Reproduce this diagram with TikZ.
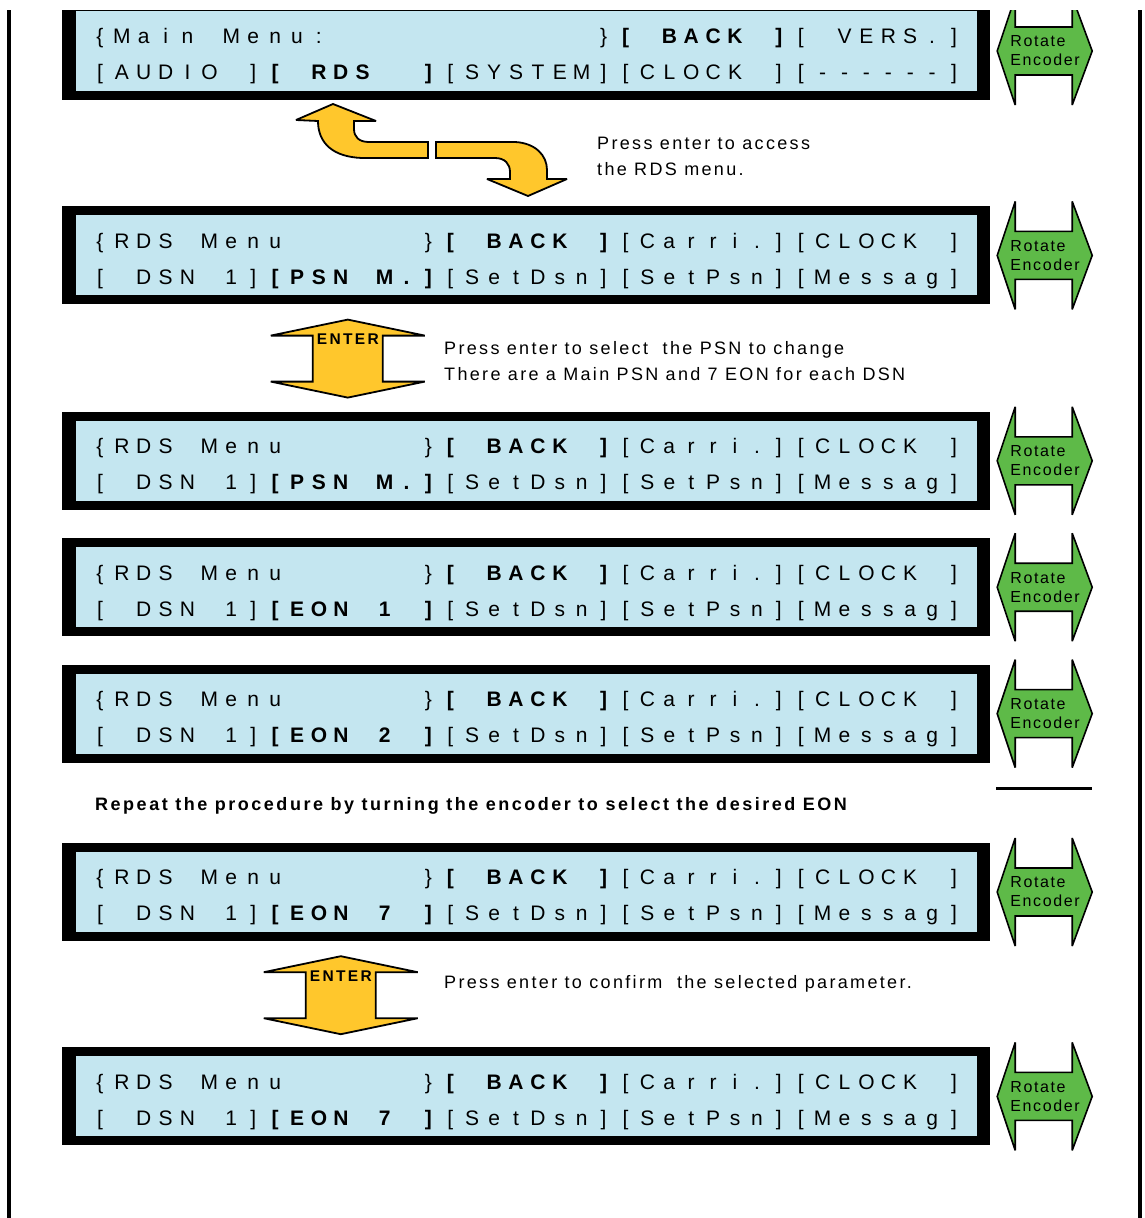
\documentclass[tikz,border=0pt]{standalone}
\usepackage{fontspec}
\setmainfont{Liberation Sans}
\newfontfamily\notefont[LetterSpace=13]{Liberation Sans}
\newfontfamily\repeatfont[LetterSpace=14]{Liberation Sans}
\newfontfamily\knobfont[LetterSpace=10]{Liberation Sans}
\newfontfamily\enterfont[LetterSpace=15]{Liberation Sans}
\usepackage{tikz}
\usetikzlibrary{calc, positioning}
\definecolor{LcdBlue}{RGB}{196,230,240}
\definecolor{KnobGreen}{RGB}{94,186,72}
\definecolor{EnterYellow}{RGB}{255,199,44}

\newif\iflcdbold
\newlength\lcdpitch
\setlength\lcdpitch{21.9pt}
\def\lcdblank{_}
\def\lcdstar{*}
\makeatletter
\newcommand\lcdstring[1]{\global\lcdboldfalse\@tfor\lcdtok:=#1\do{\lcdcell}}
\makeatother
\newcommand\lcdcell{%
  \ifx\lcdtok\lcdstar
    \iflcdbold\global\lcdboldfalse\else\global\lcdboldtrue\fi
  \else
    \makebox[\lcdpitch]{\iflcdbold\bfseries\fi\ifx\lcdtok\lcdblank\else\lcdtok\fi}%
  \fi}

\begin{document}
\begin{tikzpicture}[
  x=1pt, y=-1pt,
  lcdbox/.style={fill=black, inner sep=0pt, minimum width=928pt, minimum height=98pt,
    path picture={\fill[LcdBlue] ([shift={(14pt,-9pt)}]path picture bounding box.north west) rectangle ([shift={(-13pt,9pt)}]path picture bounding box.south east);}},
  lcdrow/.style={anchor=base west, inner sep=0pt, font=\fontsize{21pt}{21pt}\selectfont},
  knob/.style={draw=black, line width=1.6pt, fill=KnobGreen, miter limit=3},
  knobtext/.style={anchor=west, align=left, inner sep=0pt, font=\knobfont\fontsize{16pt}{19pt}\selectfont},
  yellowarrow/.style={draw=black, line width=1.8pt, fill=EnterYellow, miter limit=3},
  entertext/.style={inner sep=0pt, font=\enterfont\bfseries\fontsize{15.5pt}{15.5pt}\selectfont},
  notetext/.style={anchor=west, align=left, inner sep=0pt, font=\notefont\fontsize{18pt}{26.5pt}\selectfont}
]
\useasboundingbox (0,0) rectangle (1144,1218);
\clip (0,10) rectangle (1144,1218);

\node[lcdbox] (lcd1) at (526,51) {};
\node[lcdbox, below=106pt of lcd1] (lcd2) {};
\node[lcdbox, below=107pt of lcd2] (lcd3) {};
\node[lcdbox, below=28pt of lcd3] (lcd4) {};
\node[lcdbox, below=28pt of lcd4] (lcd5) {};
\node[lcdbox, below=80pt of lcd5] (lcd6) {};
\node[lcdbox, below=106pt of lcd6] (lcd7) {};

\node[lcdrow] (menu1) at ([shift={(27pt,-42pt)}]lcd1.north west) {\lcdstring{\{Main_Menu:____________\}*[_BACK_]*[_VERS.]}};
\node[lcdrow] (item1) at ([shift={(27pt,-78pt)}]lcd1.north west) {\lcdstring{[AUDIO_]*[_RDS__]*[SYSTEM][CLOCK_][------]}};
\foreach \n in {2,...,7}
  \node[lcdrow] (menu\n) at ([shift={(27pt,-42pt)}]lcd\n.north west) {\lcdstring{\{RDS_Menu______\}*[_BACK_]*[Carri.][CLOCK_]}};
\node[lcdrow] (item2) at ([shift={(27pt,-78pt)}]lcd2.north west) {\lcdstring{[_DSN_1]*[PSN_M.]*[SetDsn][SetPsn][Messag]}};
\node[lcdrow] (item3) at ([shift={(27pt,-78pt)}]lcd3.north west) {\lcdstring{[_DSN_1]*[PSN_M.]*[SetDsn][SetPsn][Messag]}};
\node[lcdrow] (item4) at ([shift={(27pt,-78pt)}]lcd4.north west) {\lcdstring{[_DSN_1]*[EON_1_]*[SetDsn][SetPsn][Messag]}};
\node[lcdrow] (item5) at ([shift={(27pt,-78pt)}]lcd5.north west) {\lcdstring{[_DSN_1]*[EON_2_]*[SetDsn][SetPsn][Messag]}};
\node[lcdrow] (item6) at ([shift={(27pt,-78pt)}]lcd6.north west) {\lcdstring{[_DSN_1]*[EON_7_]*[SetDsn][SetPsn][Messag]}};
\node[lcdrow] (item7) at ([shift={(27pt,-78pt)}]lcd7.north west) {\lcdstring{[_DSN_1]*[EON_7_]*[SetDsn][SetPsn][Messag]}};

\foreach \n in {1,...,7} {
  \draw[knob, shift={(lcd\n.east)}] (7,0) -- (25,-54) -- (25,-24) -- (82,-24) -- (82,-54) -- (102,0) -- (82,54) -- (82,24) -- (25,24) -- (25,54) -- cycle;
  \node[knobtext] (knob\n) at ([xshift=20pt]lcd\n.east) {Rotate\\Encoder};
}

\draw[yellowarrow] (318,121) -- (296,120) -- (333,104) -- (376,121) -- (354,121) -- (354,129) .. controls (354,137) and (359,142) .. (369,142) -- (428,142) -- (428,158) -- (362,158) .. controls (334,157) and (318,144) .. (318,121) -- cycle;
\draw[yellowarrow] (436,142) -- (515,142) .. controls (535,143) and (547,155) .. (547,170) -- (547,179) -- (567,179) -- (528,196) -- (487,179) -- (510,179) -- (510,172) .. controls (510,164) and (505,158) .. (495,158) -- (436,158) -- cycle;

\coordinate (enter1) at ([xshift=286pt, yshift=-54pt]lcd2.south west);
\coordinate (enter2) at ([xshift=279pt, yshift=-54pt]lcd6.south west);
\foreach \a in {enter1, enter2}
  \draw[yellowarrow, shift={(\a)}] (0,-39) -- (77,-23) -- (35,-23) -- (35,23) -- (77,23) -- (0,39) -- (-77,23) -- (-35,23) -- (-35,-23) -- (-77,-23) -- cycle;
\node[entertext] (enterlabel1) at ([yshift=19pt]enter1) {ENTER};
\node[entertext] (enterlabel2) at ([yshift=19pt]enter2) {ENTER};

\node[notetext] (access) at (597,156.5) {Press enter to access\\the RDS menu.};
\node[notetext] (select) at (444,361) {Press enter to select~ the PSN to change\\There are a Main PSN and 7 EON for each DSN};
\node[notetext] (confirm) at (444,984) {Press enter to confirm~ the selected parameter.};
\node[notetext, font=\repeatfont\bfseries\fontsize{18pt}{18pt}\selectfont] (repeat) at (95,806) {Repeat the procedure by turning the encoder to select the desired EON};

\draw[line width=3pt] (996,788) -- (1092,788);
\draw[line width=4pt] (9,0) -- (9,1218);
\draw[line width=3.5pt] (1140,0) -- (1140,1218);
\end{tikzpicture}
\end{document}
